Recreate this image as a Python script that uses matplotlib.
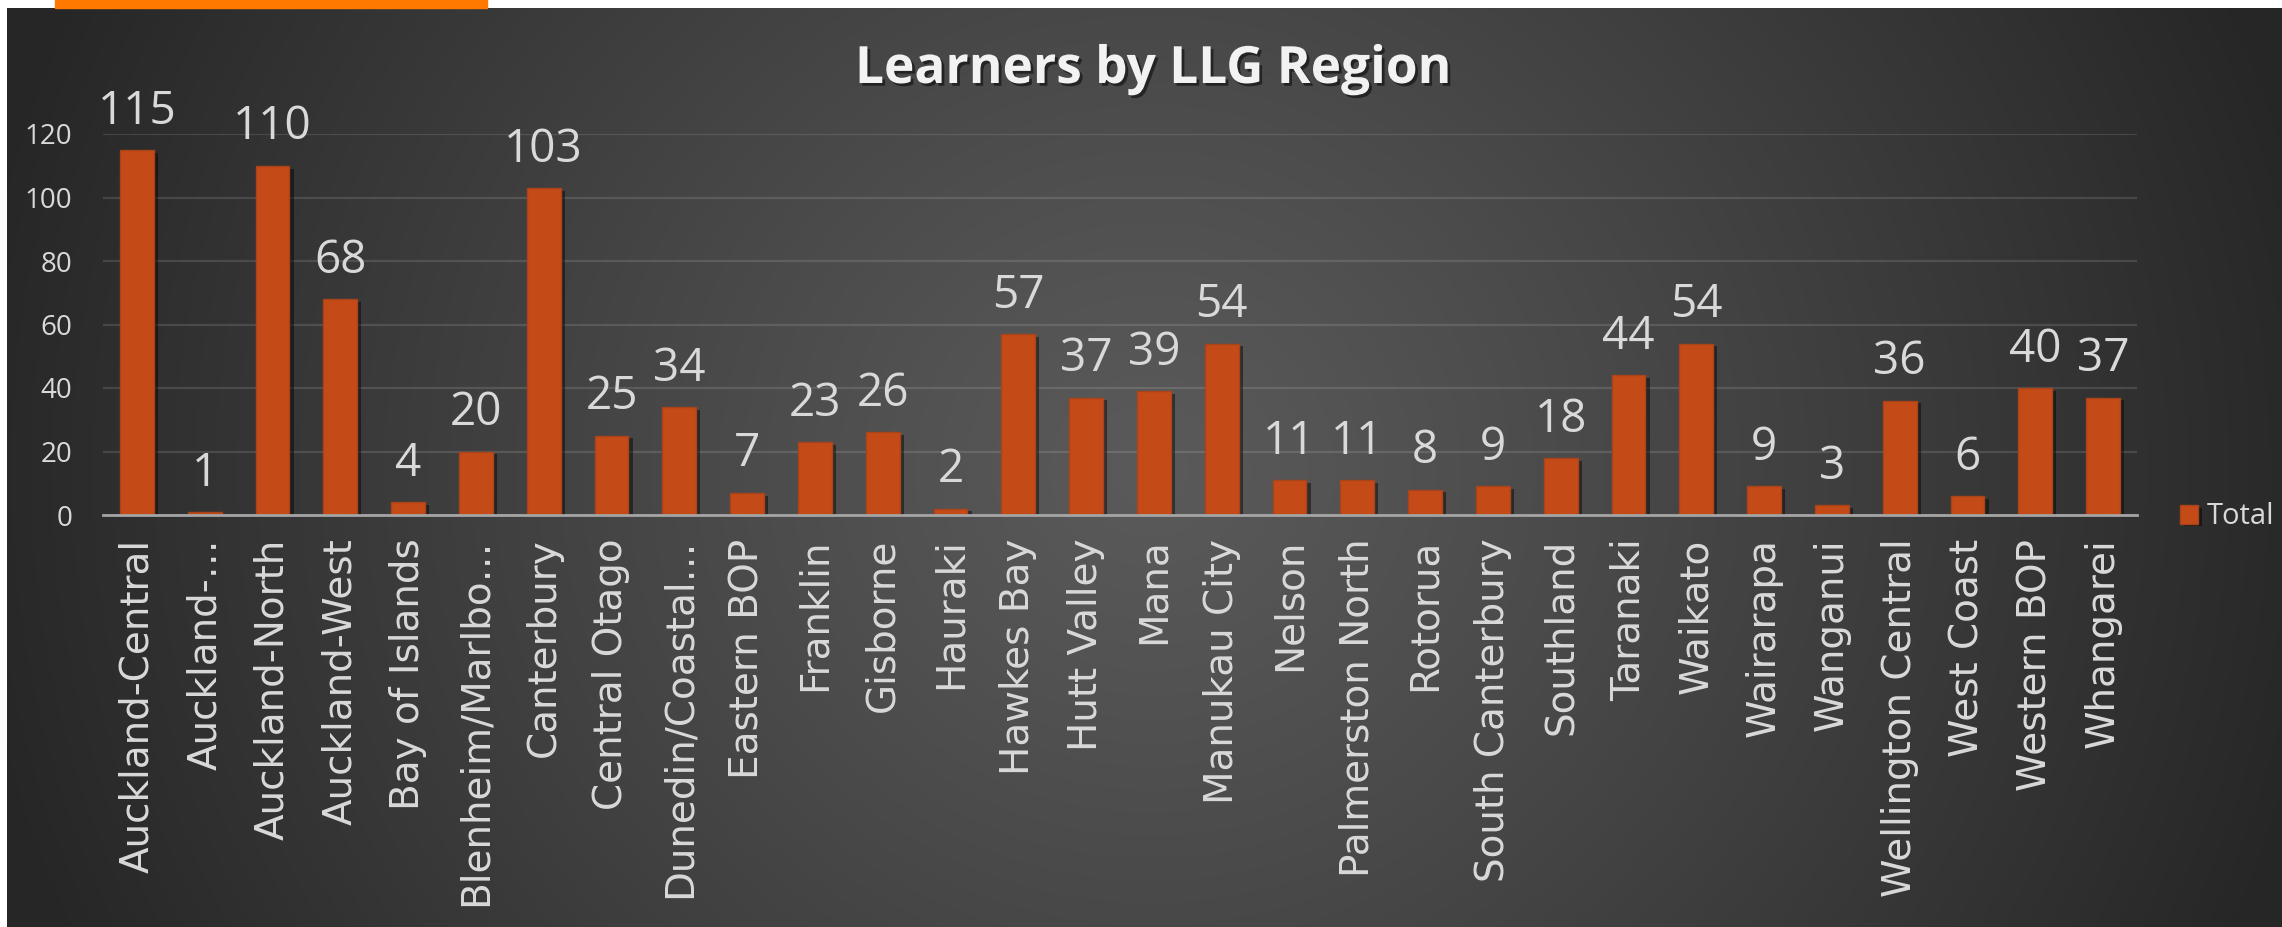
import matplotlib
matplotlib.use('Agg')
import matplotlib.pyplot as plt
import matplotlib.patheffects as pe
from matplotlib.patches import Rectangle
import numpy as np

# Data
regions = ['Auckland-Central', 'Auckland-\u2026', 'Auckland-North', 'Auckland-West',
           'Bay of Islands', 'Blenheim/Marlbo\u2026', 'Canterbury', 'Central Otago',
           'Dunedin/Coastal\u2026', 'Eastern BOP', 'Franklin', 'Gisborne', 'Hauraki',
           'Hawkes Bay', 'Hutt Valley', 'Mana', 'Manukau City', 'Nelson',
           'Palmerston North', 'Rotorua', 'South Canterbury', 'Southland', 'Taranaki',
           'Waikato', 'Wairarapa', 'Wanganui', 'Wellington Central', 'West Coast',
           'Western BOP', 'Whangarei']
totals = [115, 1, 110, 68, 4, 20, 103, 25, 34, 7, 23, 26, 2, 57, 37, 39, 54,
          11, 11, 8, 9, 18, 44, 54, 9, 3, 36, 6, 40, 37]
y_ticks = [0, 20, 40, 60, 80, 100, 120]

W, H = 2282, 927
fig = plt.figure(figsize=(W / 100, H / 100), dpi=100, facecolor='white')

# dark radial gradient panel
bg = fig.add_axes([7 / W, 0, 1 - 7 / W, (H - 8) / H])
bg.set_axis_off()
xx, yy = np.meshgrid(np.arange(W - 7) + 7, np.arange(H - 8) + 8)
r = np.hypot(xx - 1150, (yy - 470) * 1.05)
t = np.clip(r / 1200, 0, 1) ** 1.15
val = (90 - 52 * t) / 255
img = np.dstack([val, val, val])
bg.imshow(img, aspect='auto', extent=[0, 1, 0, 1], origin='upper')
bg.set_xlim(0, 1)
bg.set_ylim(0, 1)

# orange strip on top
fig.patches.append(Rectangle((55 / W, 1 - 8 / H), (487 - 55) / W, 8 / H,
                             transform=fig.transFigure, color='#FF7800', zorder=5))

ax = fig.add_axes([103 / W, (H - 515) / H, (2137 - 103) / W, (515 - 134) / H])
ax.patch.set_alpha(0)
x = np.arange(len(regions))
bars = ax.bar(x, totals, width=0.5, color='#C44B17', edgecolor='#A9441A',
              linewidth=1, zorder=3)
for b in bars:
    b.set_path_effects([pe.SimplePatchShadow(offset=(3, -2), shadow_rgbFace='black', alpha=0.45),
                        pe.Normal()])

ax.set_xlim(-0.5, len(regions) - 0.5)
ax.set_ylim(0, 120)
ax.set_yticks(y_ticks)
ax.yaxis.grid(True, color='white', alpha=0.12, linewidth=1.6)
ax.set_axisbelow(True)
for s in ['top', 'right', 'left']:
    ax.spines[s].set_visible(False)
ax.spines['bottom'].set_color('#A5A5A5')
ax.spines['bottom'].set_linewidth(2)
ax.spines['bottom'].set_zorder(4)

ax.set_xticks(x)
ax.set_xticklabels(regions, rotation=90, va='top', ha='center',
                   fontsize=28, family='DejaVu Sans', color='#D9D9D9')
ax.tick_params(axis='x', length=0, pad=17)
ax.tick_params(axis='y', length=0, pad=22, labelsize=20, labelcolor='#D9D9D9')
for lab in ax.get_yticklabels():
    lab.set_family('Open Sans')

ax.bar_label(bars, padding=11, fontsize=33, family='Open Sans', color='#D9D9D9')

fig.text(1153 / W, 1 - 83 / H, 'Learners by LLG Region', ha='center', va='baseline',
         fontsize=37, weight='bold', family='Open Sans', color='#F2F2F2',
         path_effects=[pe.withSimplePatchShadow(offset=(2, -2), shadow_rgbFace='black', alpha=0.5)])

leg = fig.legend([bars[0]], ['Total'], loc='center left',
                 bbox_to_anchor=(2180 / W, 1 - 517 / H), frameon=False,
                 prop={'family': 'Open Sans', 'size': 21},
                 handlelength=0.62, handleheight=0.62, handletextpad=0.3,
                 borderpad=0, borderaxespad=0)
for txt in leg.get_texts():
    txt.set_color('#D9D9D9')

fig.savefig('out.png', dpi=100, facecolor='white')
